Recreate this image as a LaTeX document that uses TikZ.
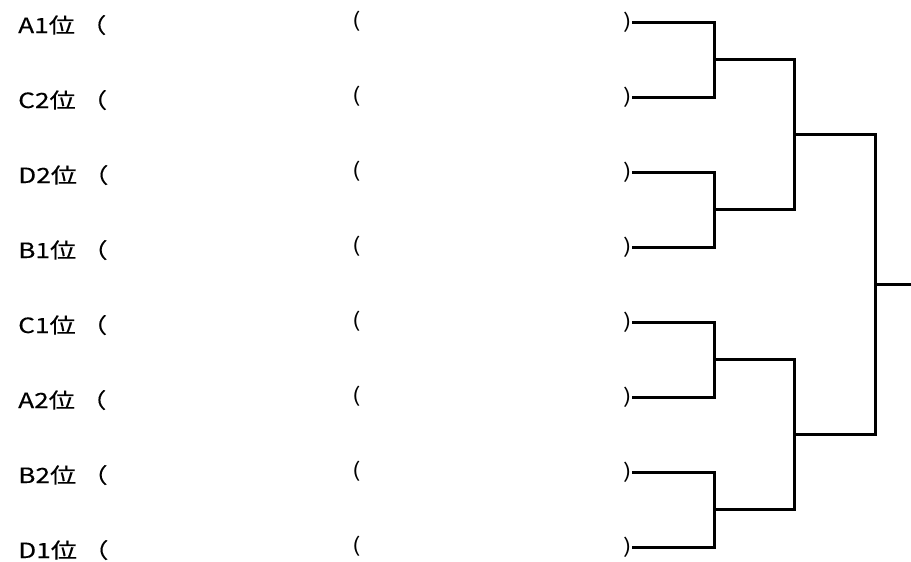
\documentclass[tikz,border=0pt]{standalone}
\usepackage{fontspec}
\usepackage{graphicx}
\setmainfont{Noto Sans CJK JP}
\newfontfamily\seedfont[FakeBold=0.2]{Noto Sans CJK JP}
\usetikzlibrary{positioning}
\newcommand{\wide}[1]{\scalebox{1.25}[1]{#1}}
\tikzstyle{seed} = [anchor=base west, inner sep=0pt, font=\seedfont\fontsize{21}{24}\selectfont]
\tikzstyle{paren} = [inner sep=0pt, font=\fontsize{20}{24}\selectfont]
\tikzstyle{bracket} = [draw, line width=3pt]

\begin{document}
\begin{tikzpicture}[x=1pt, y=-1pt]
  \useasboundingbox (0,0) rectangle (911,562);
  % rows of the draw
  \foreach \lab [count=\i] in {A1,C2,D2,B1,C1,A2,B2,D1} {
    \node[seed] (seed\i) at (18,{22+75*(\i-1)+11}) {\wide{\lab 位\hspace{0.2em}（}};
    \node[paren,anchor=west] (lp\i) at (352,{21+75*(\i-1)}) {\wide{(}};
    \node[paren,anchor=east] (rp\i) at (632,{22+75*(\i-1)}) {\wide{)}};
  }
  % joins
  \coordinate (j1) at (714,59.5);
  \coordinate (j2) at (714,209.5);
  \coordinate (j3) at (714,359.5);
  \coordinate (j4) at (714,509.5);
  \coordinate (k1) at (794,134.5);
  \coordinate (k2) at (794,434.5);
  \coordinate (fin) at (875,284.5);
  \coordinate (champ) at (912,284.5);

  \draw[bracket] (rp1.east) -| (j1) |- (rp2.east);
  \draw[bracket] (rp3.east) -| (j2) |- (rp4.east);
  \draw[bracket] (rp5.east) -| (j3) |- (rp6.east);
  \draw[bracket] (rp7.east) -| (j4) |- (rp8.east);
  \draw[bracket] (j1) -| (k1) |- (j2);
  \draw[bracket] (j3) -| (k2) |- (j4);
  \draw[bracket] (k1) -| (fin) |- (k2);
  \draw[bracket] (fin) -- (champ);
\end{tikzpicture}
\end{document}
